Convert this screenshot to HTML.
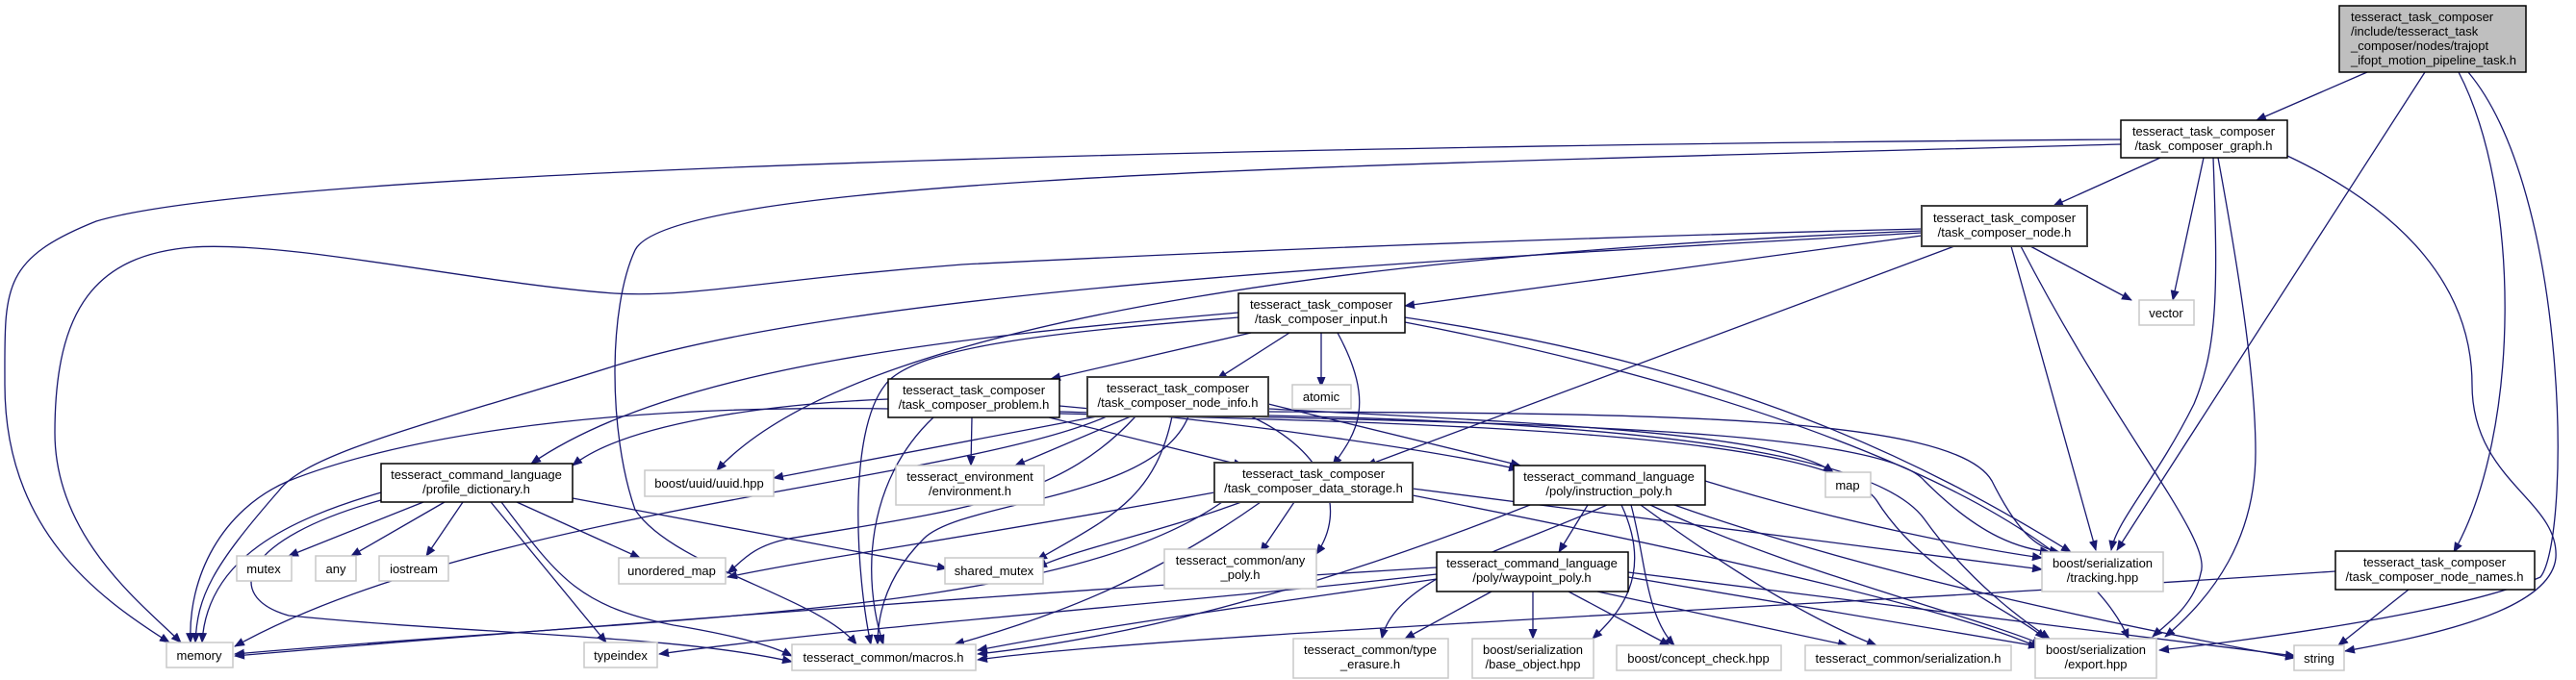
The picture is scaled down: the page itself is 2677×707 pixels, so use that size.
<!DOCTYPE html>
<html><head><meta charset="utf-8"><style>
html,body{margin:0;padding:0;background:#fff;}
svg{display:block;}
text{font-family:"Liberation Sans",sans-serif;font-size:13px;fill:#000;}
.e{fill:none;stroke:#191970;stroke-width:1.3;marker-end:url(#a);}
.m{fill:#fff;stroke:#000;stroke-width:1.5;}
.d{fill:#fff;stroke:#404040;stroke-width:2;}
.g{fill:#fff;stroke:#c8c8c8;stroke-width:1.5;}
</style></head><body>
<svg width="2677" height="707" viewBox="0 0 2677 707" xmlns="http://www.w3.org/2000/svg">
<defs><marker id="a" markerWidth="11" markerHeight="9" refX="10" refY="4.5" orient="auto" markerUnits="userSpaceOnUse"><path d="M0,0L11,4.5L0,9z" fill="#191970"/></marker></defs>
<g>
<!-- top -->
<path class="e" d="M2460,75 L2345,125"/>
<path class="e" d="M2520,75 L2200,572"/>
<path class="e" d="M2555,75 C2620,200 2620,450 2550,574"/>
<path class="e" d="M2565,75 C2670,200 2672,560 2640,600 C2550,640 2300,670 2244,676"/>
<!-- graph -->
<path class="e" d="M2245,164 L2134,214"/>
<path class="e" d="M2290,164 L2258,312"/>
<path class="e" d="M2300,164 C2305,300 2305,360 2280,420 C2240,500 2200,540 2194,572"/>
<path class="e" d="M2305,164 C2330,300 2344,400 2344,470 C2344,560 2300,620 2250,662"/>
<path class="e" d="M2377,162 C2500,220 2569,300 2569,400 C2569,500 2660,520 2656,580 C2650,640 2500,665 2437,677"/>
<path class="e" d="M2204,145 C1500,150 300,170 100,230 C0,270 5,300 5,400 C5,550 100,620 176,668"/>
<path class="e" d="M2204,150 C1500,170 700,180 660,260 C632,320 632,450 660,530 C700,590 850,620 890,670"/>
<!-- node.h -->
<path class="e" d="M1997,238 C1500,250 1100,270 1000,275 C800,290 720,310 638,305 C500,295 300,250 200,257 C100,265 57,320 57,450 C57,560 150,630 188,668"/>
<path class="e" d="M1997,242 C1500,270 900,300 640,380 C450,440 320,470 290,510 C220,590 205,620 203,668"/>
<path class="e" d="M1997,240 C1500,260 900,320 745,489"/>
<path class="e" d="M1997,245 L1460,318"/>
<path class="e" d="M2031,256 L1420,484"/>
<path class="e" d="M2110,256 L2215,312"/>
<path class="e" d="M2090,256 L2178,572"/>
<path class="e" d="M2100,256 C2200,450 2300,560 2287,596 C2280,630 2250,650 2237,662"/>
<!-- input -->
<path class="e" d="M1300,346 L1092,394"/>
<path class="e" d="M1340,346 L1265,394"/>
<path class="e" d="M1373,346 L1373,402"/>
<path class="e" d="M1390,346 C1430,420 1410,450 1385,484"/>
<path class="e" d="M1287,325 C1000,350 700,380 552,482"/>
<path class="e" d="M1287,330 C1100,345 950,360 920,400 C880,450 890,600 905,670"/>
<path class="e" d="M1460,330 C1800,380 2000,480 2152,574"/>
<path class="e" d="M1460,335 C1800,400 2150,520 2212,664"/>
<!-- problem -->
<path class="e" d="M923,415 C800,420 650,440 595,484"/>
<path class="e" d="M1010,434 L1009,484"/>
<path class="e" d="M1090,434 L1292,484"/>
<path class="e" d="M970,434 C900,500 895,600 918,670"/>
<path class="e" d="M923,425 C600,420 400,460 300,500 C230,530 195,600 198,668"/>
<path class="e" d="M1101,422 C1300,440 1500,470 1578,488"/>
<path class="e" d="M1101,428 C1500,440 1950,440 2000,500 C2060,560 2100,570 2130,574"/>
<path class="e" d="M1101,430 C1500,440 1900,450 1950,520 C2000,600 2100,640 2125,664"/>
<!-- node_info -->
<path class="e" d="M1175,433 L1055,484"/>
<path class="e" d="M1318,420 L1580,484"/>
<path class="e" d="M1318,425 C1600,440 1850,450 1905,491"/>
<path class="e" d="M1300,433 C1380,470 1400,530 1368,576"/>
<path class="e" d="M1218,433 C1200,520 1150,540 1078,582"/>
<path class="e" d="M1235,433 C1200,520 1000,520 960,560 C920,600 912,640 912,670"/>
<path class="e" d="M1180,433 C1100,520 1000,530 820,560 C780,568 770,585 756,596"/>
<path class="e" d="M1150,433 C1000,500 500,530 244,672"/>
<path class="e" d="M1140,433 L804,497"/>
<path class="e" d="M1318,428 C1700,430 2030,430 2070,500 C2100,560 2120,570 2140,574"/>
<path class="e" d="M1318,432 C1700,440 1950,470 2000,540 C2050,610 2110,650 2130,664"/>
<!-- profile_dictionary -->
<path class="e" d="M440,522 L300,578"/>
<path class="e" d="M462,522 L365,578"/>
<path class="e" d="M481,522 L443,578"/>
<path class="e" d="M537,522 L665,580"/>
<path class="e" d="M595,518 L984,591"/>
<path class="e" d="M396,512 C300,540 215,580 210,668"/>
<path class="e" d="M510,522 L630,668"/>
<path class="e" d="M521,522 C580,600 600,630 700,650 C760,660 800,670 823,682"/>
<path class="e" d="M396,520 C250,560 230,620 300,640 C500,660 700,660 823,688"/>
<!-- data_storage -->
<path class="e" d="M1345,522 L1310,574"/>
<path class="e" d="M1290,522 C1200,555 1120,570 1078,590"/>
<path class="e" d="M1262,512 C1000,560 850,580 756,600"/>
<path class="e" d="M1270,522 C1100,640 700,640 244,680"/>
<path class="e" d="M1310,522 C1200,600 1100,640 992,670"/>
<path class="e" d="M1468,508 L2122,592"/>
<path class="e" d="M1468,515 C1800,580 2050,640 2120,674"/>
<!-- instruction_poly -->
<path class="e" d="M1650,525 L1620,574"/>
<path class="e" d="M1670,525 C1570,570 1450,600 1436,664"/>
<path class="e" d="M1685,525 C1720,600 1680,640 1655,664"/>
<path class="e" d="M1695,525 C1710,580 1710,640 1740,671"/>
<path class="e" d="M1705,525 C1780,580 1870,640 1950,671"/>
<path class="e" d="M1715,525 C1850,590 2050,640 2122,670"/>
<path class="e" d="M1740,525 C1950,600 2250,660 2385,684"/>
<path class="e" d="M1590,525 C1400,600 1200,660 1016,680"/>
<path class="e" d="M1772,500 C1900,540 2050,570 2122,580"/>
<!-- waypoint -->
<path class="e" d="M1493,590 C1000,620 500,660 244,682"/>
<path class="e" d="M1493,597 C1200,630 900,650 685,680"/>
<path class="e" d="M1493,602 C1300,630 1150,650 1016,676"/>
<path class="e" d="M1550,615 L1460,664"/>
<path class="e" d="M1593,615 L1593,664"/>
<path class="e" d="M1630,615 L1735,671"/>
<path class="e" d="M1660,615 L1920,671"/>
<path class="e" d="M1692,600 L2118,672"/>
<path class="e" d="M1692,595 L2385,682"/>
<!-- node_names -->
<path class="e" d="M2427,594 C1900,630 1200,660 1016,686"/>
<path class="e" d="M2503,613 L2430,671"/>
</g>
<!-- nodes -->
<rect x="2431" y="6" width="194" height="69" fill="#bfbfbf" stroke="#000" stroke-width="1.5"/>
<text x="2443" y="22">tesseract_task_composer</text>
<text x="2443" y="37">/include/tesseract_task</text>
<text x="2443" y="52">_composer/nodes/trajopt</text>
<text x="2443" y="67">_ifopt_motion_pipeline_task.h</text>

<g text-anchor="middle">
<rect class="m" x="2204" y="125" width="173" height="39"/><text x="2290" y="141">tesseract_task_composer</text><text x="2290" y="156">/task_composer_graph.h</text>
<rect class="d" x="1997" y="214" width="172" height="42"/><text x="2083" y="231">tesseract_task_composer</text><text x="2083" y="246">/task_composer_node.h</text>
<rect class="m" x="1287" y="305" width="173" height="41"/><text x="1373" y="321">tesseract_task_composer</text><text x="1373" y="336">/task_composer_input.h</text>
<rect class="m" x="923" y="394" width="178" height="40"/><text x="1012" y="410">tesseract_task_composer</text><text x="1012" y="425">/task_composer_problem.h</text>
<rect class="d" x="1130" y="392" width="188" height="41"/><text x="1224" y="408">tesseract_task_composer</text><text x="1224" y="423">/task_composer_node_info.h</text>
<rect class="g" x="1343" y="400" width="61" height="25"/><text x="1373" y="417">atomic</text>
<rect class="g" x="670" y="489" width="134" height="27"/><text x="737" y="507">boost/uuid/uuid.hpp</text>
<rect class="g" x="931" y="484" width="154" height="41"/><text x="1008" y="500">tesseract_environment</text><text x="1008" y="515">/environment.h</text>
<rect class="m" x="396" y="482" width="199" height="40"/><text x="495" y="498">tesseract_command_language</text><text x="495" y="513">/profile_dictionary.h</text>
<rect class="d" x="1262" y="481" width="206" height="41"/><text x="1365" y="497">tesseract_task_composer</text><text x="1365" y="512">/task_composer_data_storage.h</text>
<rect class="m" x="1573" y="484" width="199" height="41"/><text x="1672" y="500">tesseract_command_language</text><text x="1672" y="515">/poly/instruction_poly.h</text>
<rect class="g" x="1897" y="491" width="47" height="26"/><text x="1920" y="509">map</text>
<rect class="g" x="2223" y="312" width="57" height="26"/><text x="2251" y="330">vector</text>
<rect class="g" x="2122" y="574" width="126" height="41"/><text x="2185" y="590">boost/serialization</text><text x="2185" y="605">/tracking.hpp</text>
<rect class="g" x="246" y="578" width="57" height="26"/><text x="274" y="596">mutex</text>
<rect class="g" x="328" y="578" width="42" height="26"/><text x="349" y="596">any</text>
<rect class="g" x="394" y="578" width="72" height="26"/><text x="430" y="596">iostream</text>
<rect class="g" x="643" y="580" width="111" height="27"/><text x="698" y="598">unordered_map</text>
<rect class="g" x="982" y="580" width="102" height="27"/><text x="1033" y="598">shared_mutex</text>
<rect class="g" x="1210" y="571" width="158" height="41"/><text x="1289" y="587">tesseract_common/any</text><text x="1289" y="602">_poly.h</text>
<rect class="m" x="1493" y="574" width="199" height="41"/><text x="1592" y="590">tesseract_command_language</text><text x="1592" y="605">/poly/waypoint_poly.h</text>
<rect class="m" x="2427" y="573" width="207" height="40"/><text x="2530" y="589">tesseract_task_composer</text><text x="2530" y="604">/task_composer_node_names.h</text>
<rect class="g" x="173" y="668" width="69" height="26"/><text x="207" y="686">memory</text>
<rect class="g" x="607" y="668" width="76" height="26"/><text x="645" y="686">typeindex</text>
<rect class="g" x="823" y="670" width="191" height="27"/><text x="918" y="688">tesseract_common/macros.h</text>
<rect class="g" x="1344" y="664" width="161" height="41"/><text x="1424" y="680">tesseract_common/type</text><text x="1424" y="695">_erasure.h</text>
<rect class="g" x="1530" y="664" width="126" height="41"/><text x="1593" y="680">boost/serialization</text><text x="1593" y="695">/base_object.hpp</text>
<rect class="g" x="1680" y="671" width="171" height="26"/><text x="1765" y="689">boost/concept_check.hpp</text>
<rect class="g" x="1876" y="671" width="214" height="26"/><text x="1983" y="689">tesseract_common/serialization.h</text>
<rect class="g" x="2115" y="664" width="126" height="41"/><text x="2178" y="680">boost/serialization</text><text x="2178" y="695">/export.hpp</text>
<rect class="g" x="2384" y="671" width="52" height="26"/><text x="2410" y="689">string</text>
</g>
</svg>
</body></html>
